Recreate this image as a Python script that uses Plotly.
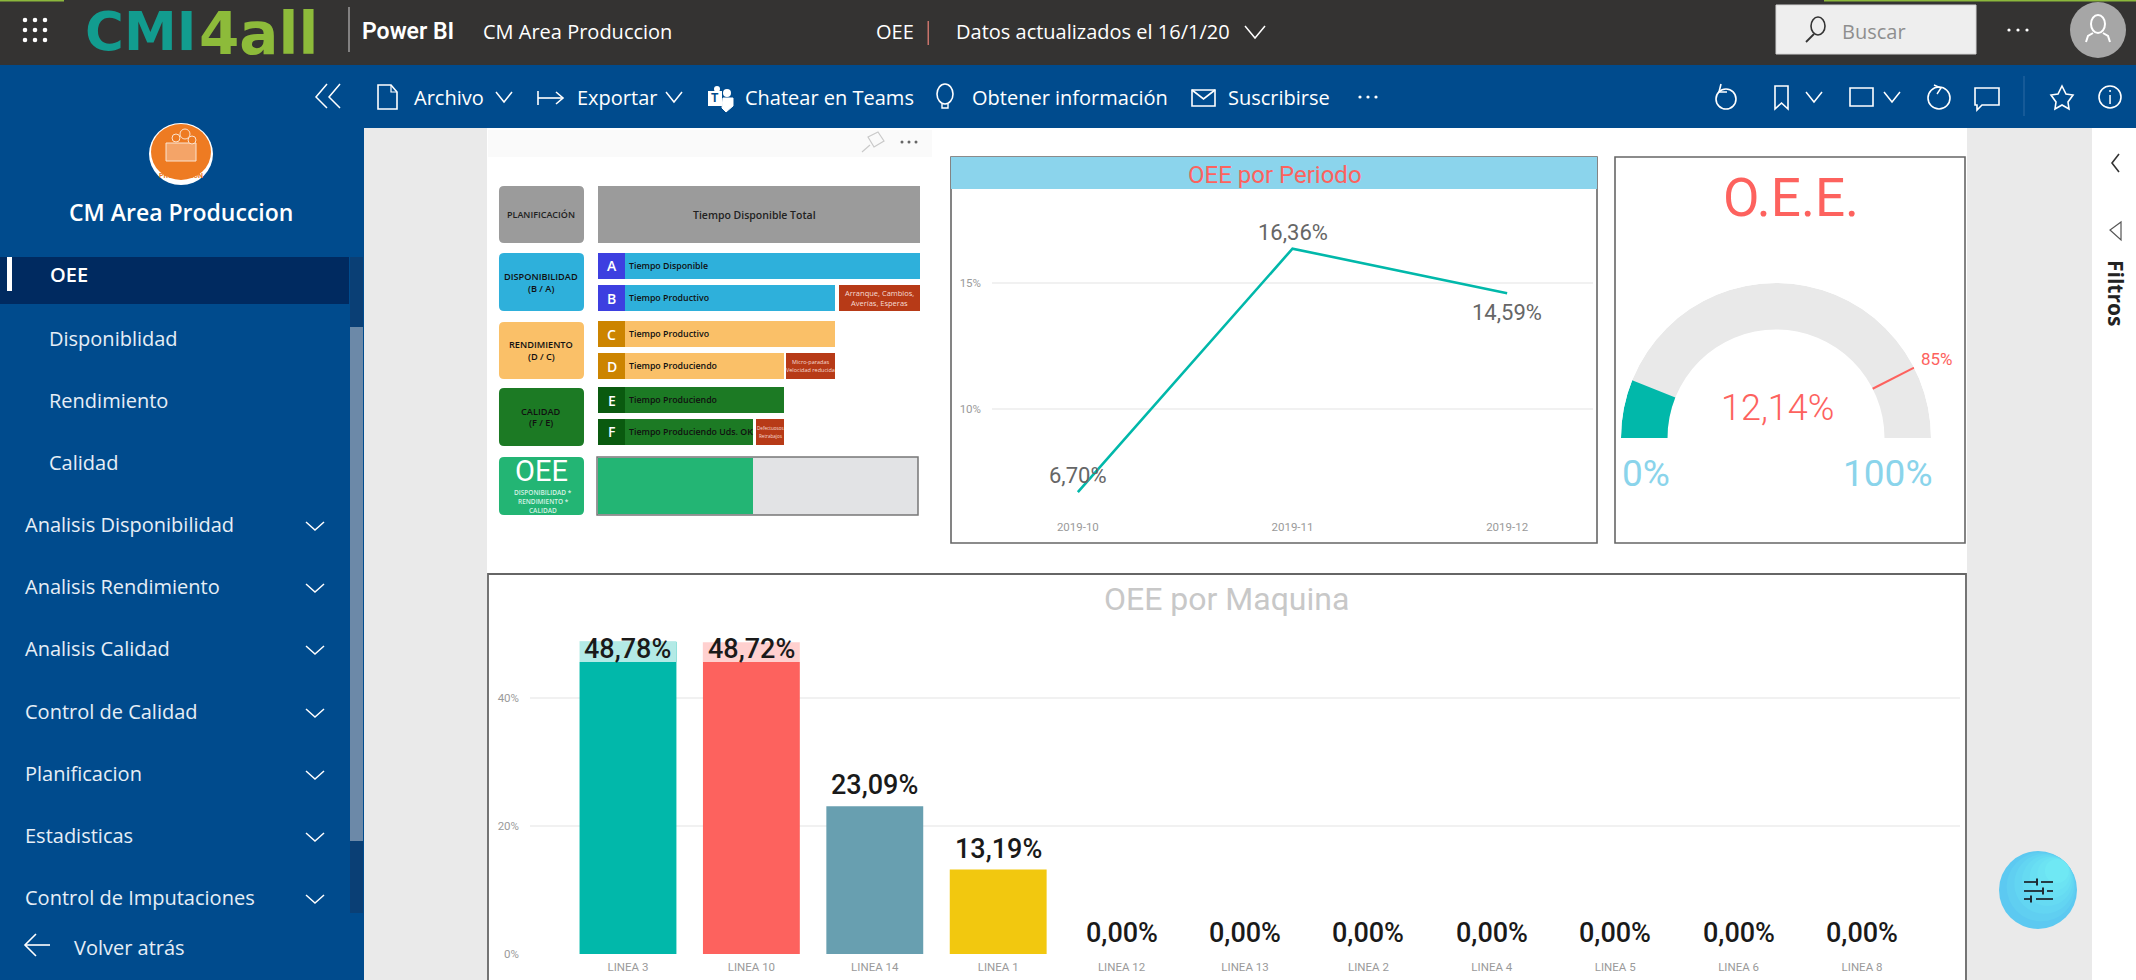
import plotly.graph_objects as go

W, H = 2136, 980

# ---------- chart data ----------
periods = ["2019-10", "2019-11", "2019-12"]
oee_period = [6.70, 16.36, 14.59]
machines = ["LINEA 3", "LINEA 10", "LINEA 14", "LINEA 1", "LINEA 12", "LINEA 13",
            "LINEA 2", "LINEA 4", "LINEA 5", "LINEA 6", "LINEA 8"]
oee_machine = [48.78, 48.72, 23.09, 13.19, 0, 0, 0, 0, 0, 0, 0]
machine_colors = ["#01B8AA", "#FD625E", "#689FB0", "#F2C80F"] + ["#01B8AA"] * 7
oee_value = 12.14
oee_target = 85
gauge_min, gauge_max = 0, 100

nav_sub = ["Disponiblidad", "Rendimiento", "Calidad"]
nav_main = ["Analisis Disponibilidad", "Analisis Rendimiento", "Analisis Calidad",
            "Control de Calidad", "Planificacion", "Estadisticas", "Control de Imputaciones"]


def es(v):
    return f"{v:.2f}".replace(".", ",") + "%"


# ---------- pixel helpers for the page furniture ----------
px = lambda x: x / W
py = lambda y: 1 - y / H
shapes, notes = [], []
RB = "Roboto"
SANS = "Open Sans"


def rect(x0, y0, x1, y1, fill, line=None, lw=0):
    shapes.append(dict(type="rect", xref="paper", yref="paper", x0=px(x0), x1=px(x1), y0=py(y0), y1=py(y1),
                       fillcolor=fill, line=dict(color=line or "rgba(0,0,0,0)", width=lw), layer="below"))


def poly(pts, color=None, lw=2, fill=None, closed=False):
    d = "M " + " L ".join(f"{px(x):.5f},{py(y):.5f}" for x, y in pts) + (" Z" if closed else "")
    shapes.append(dict(type="path", xref="paper", yref="paper", path=d, fillcolor=fill or "rgba(0,0,0,0)",
                       line=dict(color=color or "rgba(0,0,0,0)", width=lw), layer="below"))


def rrect(x0, y0, x1, y1, fill, r=5):
    a = lambda x, y: f"{px(x):.5f},{py(y):.5f}"
    d = (f"M {a(x0+r,y0)} L {a(x1-r,y0)} Q {a(x1,y0)} {a(x1,y0+r)} L {a(x1,y1-r)} Q {a(x1,y1)} {a(x1-r,y1)} "
         f"L {a(x0+r,y1)} Q {a(x0,y1)} {a(x0,y1-r)} L {a(x0,y0+r)} Q {a(x0,y0)} {a(x0+r,y0)} Z")
    shapes.append(dict(type="path", xref="paper", yref="paper", path=d, fillcolor=fill,
                       line=dict(color="rgba(0,0,0,0)", width=0), layer="below"))


def circ(cx, cy, rx, ry=None, fill="rgba(0,0,0,0)", line=None, lw=0):
    ry = ry or rx
    shapes.append(dict(type="circle", xref="paper", yref="paper", x0=px(cx-rx), x1=px(cx+rx), y0=py(cy+ry), y1=py(cy-ry),
                       fillcolor=fill, line=dict(color=line or "rgba(0,0,0,0)", width=lw), layer="below"))


def T(text, x, y, size, color, anchor="left", family=RB, weight=None, angle=0):
    f = dict(family=family, size=size, color=color)
    if weight:
        f["weight"] = weight
    notes.append(dict(text=text, x=px(x), y=py(y), xref="paper", yref="paper", xanchor=anchor, yanchor="middle",
                      showarrow=False, font=f, textangle=angle, borderpad=0))


def chev(cx, cy, w, h, color="#FFFFFF", lw=1.5):
    poly([(cx-w, cy-h), (cx, cy+h), (cx+w, cy-h)], color, lw)


WHITE = "#FFFFFF"
BLUE = "#004B8D"

# ---------- page areas ----------
rect(0, 0, W, 65, "#343332")
rect(0, 0, 64, 1.5, "#8CB83C")
rect(1824, 0, W, 1.5, "#8CB83C")
rect(0, 65, W, 128, BLUE)
rect(0, 128, 364, H, BLUE)
rect(364, 128, 2092, H, "#EAEAEA")
rect(487, 128, 1967, H, WHITE)
rect(2092, 128, W, H, WHITE)

# top bar
for cx in (25, 35, 45):
    for cy in (20, 30, 40):
        circ(cx, cy, 2.3, fill=WHITE)
T("CMI", 84, 31, 53, "#129C8F", family="DejaVu Sans", weight=700)
T("4all", 198, 34, 58, "#8DBB3A", family="DejaVu Sans", weight=700)
rect(348.5, 7, 349.5, 52, "#CFCFCF")
T("Power BI", 361, 32, 23, WHITE, weight=600)
T("CM Area Produccion", 482, 32, 20, WHITE, family=SANS)
T("OEE", 875, 32, 20, WHITE, family=SANS)
rect(927.5, 21, 929, 45, "#C8736A")
T("Datos actualizados el 16/1/20", 955, 32, 20, WHITE, family=SANS)
chev(1255, 32, 10, 6)
rect(1776, 5, 1976, 54, "#EEEEEE", "#D5D5D5", 1)
circ(1818, 26, 7, 9, line="#333333", lw=1.6)
poly([(1814, 34), (1806, 42)], "#333333", 1.8)
T("Buscar", 1841, 32, 20, "#8E8E8E", family=SANS)
for dx in (-9, 0, 9):
    circ(2018 + dx, 30, 1.6, fill=WHITE)
circ(2098, 30, 28, fill="#A6A6A6")
circ(2098, 24, 7, 9, line=WHITE, lw=2)
poly([(2086, 42), (2088, 36), (2093, 33)], WHITE, 2)
poly([(2110, 42), (2108, 36), (2103, 33)], WHITE, 2)

# toolbar
TY = 98
poly([(327, 84), (316, 97), (327, 108)], WHITE, 1.5)
poly([(340, 84), (329, 97), (340, 108)], WHITE, 1.5)
poly([(378, 85), (391, 85), (397, 92), (397, 109), (378, 109)], WHITE, 1.6, closed=True)
poly([(391, 85), (391, 92), (397, 92)], WHITE, 1.2)
T("Archivo", 413, TY, 20, WHITE, family=SANS)
chev(504, TY-1, 8, 5)
poly([(538, 91), (538, 105)], WHITE, 1.6)
poly([(538, 98), (563, 98)], WHITE, 1.6)
poly([(556, 92), (563, 98), (556, 104)], WHITE, 1.6)
T("Exportar", 576, TY, 20, WHITE, family=SANS)
chev(674, TY-1, 8, 5)
rect(708, 91, 722, 106, WHITE)
circ(727, 93, 4, fill=WHITE)
circ(717, 89, 3, fill=WHITE)
poly([(723, 98), (733, 98), (733, 106), (726, 112), (722, 108)], WHITE, 1, fill=WHITE, closed=True)
T("T", 715, 98, 12, BLUE, "center", weight=700)
T("Chatear en Teams", 744, TY, 20, WHITE, family=SANS)
circ(945, 94, 8, 10, line=WHITE, lw=1.6)
poly([(942, 104), (942, 108), (948, 108), (948, 104)], WHITE, 1.4)
T("Obtener información", 971, TY, 20, WHITE, family=SANS)
rect(1192, 90, 1215, 106, "rgba(0,0,0,0)", WHITE, 1.6)
poly([(1192, 90), (1203.5, 99), (1215, 90)], WHITE, 1.6)
T("Suscribirse", 1227, TY, 20, WHITE, family=SANS)
for dx in (-8, 0, 8):
    circ(1368 + dx, 97, 1.6, fill=WHITE)
# right icons
circ(1726, 99, 10, line=WHITE, lw=1.6)
poly([(1721, 84), (1719, 92), (1727, 92)], WHITE, 1.6)
poly([(1775, 86), (1788, 86), (1788, 109), (1781.5, 103), (1775, 109)], WHITE, 1.6, closed=True)
chev(1814, 97, 8, 5)
rect(1850, 88, 1873, 106, "rgba(0,0,0,0)", WHITE, 1.6)
chev(1892, 97, 8, 5)
circ(1939, 98, 11, line=WHITE, lw=1.6)
poly([(1934, 85), (1941, 88), (1937, 94)], WHITE, 1.4)
poly([(1975, 88), (1999, 88), (1999, 105), (1982, 105), (1977, 110), (1977, 105), (1975, 105)], WHITE, 1.6, closed=True)
rect(2023.5, 76, 2024.5, 116, "#2C6AA3")
poly([(2062, 86), (2066, 94), (2073, 95), (2068, 102), (2069, 109), (2062, 105), (2055, 109), (2056, 102),
      (2051, 95), (2058, 94)], WHITE, 1.6, closed=True)
circ(2110, 97, 11, line=WHITE, lw=1.6)
rect(2109.3, 95, 2110.8, 104, WHITE)
rect(2109.3, 90, 2110.8, 92, WHITE)

# sidebar
circ(181, 154, 32, 31, fill=WHITE)
circ(181, 152, 30, 28, fill="#EE7B22")
rrect(165, 142, 197, 162, "#EE7B22", 2)
rect(166, 143, 196, 161, "#F4A468", "#FBE3CF", 1)
for gx, gy, gr in ((176, 138, 4), (185, 134, 5), (192, 140, 4)):
    circ(gx, gy, gr, fill="#EE7B22", line="#FBE3CF", lw=1)
T("PRODUCCION", 181, 176, 7, "#EE7B22", "center", weight=700)
T("CM Area Produccion", 181, 212, 23, WHITE, "center", family=SANS, weight=600)
rect(0, 257, 349, 304, "#002A60")
rect(7, 257, 12, 291, WHITE)
rect(350, 257, 363, 913, "#0A3F75")
rect(350, 327, 363, 841, "#6C89A8")
T("OEE", 49, 275, 20, WHITE, family=SANS, weight=600)
for name, y in zip(nav_sub, (338, 400, 462)):
    T(name, 48, y, 20, "#E6EEF6", family=SANS)
for name, y in zip(nav_main, (524, 586, 648, 711, 773, 835, 897)):
    T(name, 24, y, 20, "#E6EEF6", family=SANS)
    chev(315, y + 2, 9, 4)
poly([(25, 945), (50, 945)], WHITE, 1.6)
poly([(36, 934), (25, 945), (36, 956)], WHITE, 1.6)
T("Volver atrás", 73, 947, 20, "#E6EEF6", family=SANS)

# right filter pane
poly([(2119, 154), (2112, 163), (2119, 172)], "#333333", 1.6)
poly([(2121, 222), (2110, 230), (2121, 240)], "#555555", 1.2, closed=True)
T("Filtros", 2116, 293, 21, "#222222", "center", family="Open Sans", weight=700, angle=90)

# floating action button (soft cyan gradient built from nested discs)
fab_stops = ["#5CC9F1", "#60CFF1", "#63D5F2", "#66DAF2", "#69DFF3", "#6CE3F3", "#6FE8F4"]
for k, c in enumerate(fab_stops):
    d = k * 4.5
    circ(2038 + d * 0.7, 890 - d * 0.7, 39 - d, fill=c)
DK = "#1F2B33"
for a, b, y in ((2024, 2037, 882), (2041, 2053, 882), (2024, 2043, 891), (2047, 2053, 891),
                (2024, 2031, 899), (2036, 2053, 899)):
    poly([(a, y), (b, y)], DK, 1.8)
for x, y in ((2037, 882), (2043, 891), (2031, 899)):
    rect(x - 1, y - 3.5, x + 1, y + 3.5, DK)

# ---------- OEE explanatory panel ----------
rect(488, 130, 932, 157, "#FAFAFA")
poly([(878, 132), (884, 141), (874, 147), (868, 137)], "#C9C9C9", 1.2, closed=True)
poly([(870, 145), (862, 152)], "#C9C9C9", 1.2)
for dx in (-7, 0, 7):
    circ(909 + dx, 142, 1.5, fill="#666666")

rrect(499, 186, 584, 243, "#9B9B9B")
T("PLANIFICACIÓN", 541, 215, 9, "#222222", "center", family=SANS, weight=600)
rect(598, 186, 920, 243, "#9B9B9B")
T("Tiempo Disponible Total", 754, 215, 10.5, "#222222", "center", family=SANS, weight=600)


def box(y0, y1, fill, lines, col="#111111"):
    rrect(499, y0, 584, y1, fill)
    m = (y0 + y1) / 2
    for i, l in enumerate(lines):
        T(l, 541, m + (i - (len(lines) - 1) / 2) * 12, 9.2, col, "center", family=SANS, weight=600)


def row(y0, y1, end, fill, lab, letter_fill, letter, text):
    rect(598, y0, end, y1, fill)
    rect(598, y0, 625, y1, letter_fill)
    T(letter, 611.5, (y0 + y1) / 2, 14, WHITE, "center", family=SANS, weight=600)
    T(text, 628, (y0 + y1) / 2, 8.8, "#111111", family=SANS, weight=600)


def loss(x0, x1, y0, y1, lines, size):
    rect(x0, y0, x1, y1, "#B73A17")
    m = (y0 + y1) / 2
    for i, l in enumerate(lines):
        T(l, (x0 + x1) / 2, m + (i - (len(lines) - 1) / 2) * (size + 2.5), size, "#F6DDD5", "center", family=SANS)


box(253, 311, "#2EB0DB", ["DISPONIBILIDAD", "(B / A)"])
row(253, 279, 920, "#2EB0DB", "", "#3D3FE0", "A", "Tiempo Disponible")
row(285, 311, 835, "#2EB0DB", "", "#3D3FE0", "B", "Tiempo Productivo")
loss(839, 920, 285, 311, ["Arranque, Cambios,", "Averías, Esperas"], 7.5)
box(322, 379, "#FAC068", ["RENDIMIENTO", "(D / C)"])
row(321, 347, 835, "#FAC068", "", "#CC8400", "C", "Tiempo Productivo")
row(353, 379, 784, "#FAC068", "", "#CC8400", "D", "Tiempo Produciendo")
loss(786, 835, 353, 379, ["Micro-paradas", "Velocidad reducida"], 5.5)
box(388, 446, "#1C7A24", ["CALIDAD", "(F / E)"])
row(387, 413, 784, "#1C7A24", "", "#0A5A0F", "E", "Tiempo Produciendo")
row(419, 445, 753, "#1C7A24", "", "#0A5A0F", "F", "Tiempo Produciendo Uds. OK")
loss(756, 784, 419, 445, ["Defectuosos", "Retrabajos"], 4.6)
rrect(499, 457, 584, 515, "#23B574")
T("OEE", 541, 471, 29, WHITE, "center", family=RB)
for i, l in enumerate(["DISPONIBILIDAD *", "RENDIMIENTO *", "CALIDAD"]):
    T(l, 543, 492 + i * 9, 6.5, "#D6F2E5", "center", family=SANS, weight=600)
rect(597, 457, 918, 515, "#E2E3E5", "#777777", 1.5)
rect(598, 458, 753, 514, "#23B574")

# ---------- visual frames ----------
rect(951, 157, 1597, 543, WHITE, "#666666", 1.6)
rect(951, 157, 1597, 189, "#8BD4EC")
T("OEE por Periodo", 1275, 175, 24, "#FD625E", "center")
rect(1615, 157, 1965, 543, WHITE, "#666666", 1.6)
T("O.E.E.", 1791, 198, 53, "#FD625E", "center")
rect(488, 574, 1966, 990, WHITE, "#666666", 1.8)
T("OEE por Maquina", 1226, 599, 32, "#C8C8C8", "center")

# ---------- gauge texts ----------
T(es(oee_value), 1777, 408, 36, "#FD625E", "center", weight=300)
T(f"{gauge_min}%", 1646, 473, 37, "#8AD4EB", "center")
T(f"{gauge_max}%", 1887, 473, 37, "#8AD4EB", "center")
T(f"{oee_target}%", 1937, 359, 17, "#FD625E", "center")

# ---------- line labels ----------
for p, v, shift in zip(periods, oee_period, (17, 16, -19)):
    notes.append(dict(x=p, y=v, xref="x", yref="y", text=es(v), showarrow=False, yanchor="middle", yshift=shift,
                      font=dict(family=RB, size=22, color="#666666"), borderpad=0))

# ---------- bar labels ----------
for m, v in zip(machines, oee_machine):
    a = dict(x=m, y=v, xref="x2", yref="y2", text=es(v), showarrow=False, borderpad=0, borderwidth=0,
             font=dict(family=RB, size=27, color="#1A1A1A", weight=500))
    if v > 40:
        # translucent label background over the top of the tallest bars
        notes.append(dict(x=m, y=v, xref="x2", yref="y2", text=" ", showarrow=False, yanchor="top", width=97, height=20,
                          bgcolor="rgba(255,255,255,0.7)", borderpad=0, borderwidth=0, font=dict(size=10)))
        a.update(yanchor="middle", yshift=-7)
    else:
        a.update(yanchor="bottom", yshift=5)
    notes.append(a)

# ---------- figure ----------
fig = go.Figure()
fig.add_trace(go.Scatter(
    x=periods, y=oee_period, mode="lines",
    line=dict(color="#01B8AA", width=2.6), xaxis="x", yaxis="y", showlegend=False, cliponaxis=False))
fig.add_trace(go.Bar(
    x=machines, y=oee_machine, marker=dict(color=machine_colors, line=dict(width=0)), width=0.785,
    xaxis="x2", yaxis="y2", showlegend=False))
fig.add_trace(go.Barpolar(
    r=[1 - 0.7], base=[0.7], theta=[90], width=[180], marker=dict(color="#E9E9E9", line=dict(width=0)),
    subplot="polar", showlegend=False))
v_deg = (oee_value - gauge_min) / (gauge_max - gauge_min) * 180
fig.add_trace(go.Barpolar(
    r=[1 - 0.7], base=[0.7], theta=[v_deg / 2], width=[v_deg], marker=dict(color="#01B8AA", line=dict(width=0)),
    subplot="polar", showlegend=False))
t_deg = (oee_target - gauge_min) / (gauge_max - gauge_min) * 180
fig.add_trace(go.Scatterpolar(
    r=[0.7, 1.0], theta=[t_deg, t_deg], mode="lines", line=dict(color="#FD625E", width=2),
    subplot="polar", showlegend=False))

tick = dict(family=RB, size=11.5, color="#9A9A9A")
fig.update_layout(
    width=W, height=H, margin=dict(l=0, r=0, t=0, b=0, autoexpand=False), paper_bgcolor=WHITE,
    plot_bgcolor="rgba(0,0,0,0)", shapes=shapes, annotations=notes,
    xaxis=dict(domain=[px(992), px(1593)], anchor="y", type="category", range=[-0.4, 2.4], showgrid=False,
               zeroline=False, showline=False, tickfont=tick, ticklabelstandoff=8, tickangle=0, automargin=False),
    yaxis=dict(domain=[py(510), py(200)], anchor="x", range=[5.99, 18.29], tickvals=[10, 15], ticktext=["10%", "15%"],
               gridcolor="#F1F1F1", gridwidth=1.5, zeroline=False, showline=False, tickfont=tick,
               ticklabelstandoff=10, automargin=False),
    xaxis2=dict(domain=[px(530), px(1960)], anchor="y2", type="category", range=[-0.794, 10.794], showgrid=False,
                zeroline=False, showline=False, tickfont=tick, ticklabelstandoff=4, tickangle=0, automargin=False),
    yaxis2=dict(domain=[py(954), py(620)], anchor="x2", range=[0, 52.19], tickvals=[0, 20, 40],
                ticktext=["0%", "20%", "40%"], gridcolor="#F1F1F1", gridwidth=1.5, zeroline=False, showline=False,
                tickfont=tick, ticklabelstandoff=10, automargin=False),
    polar=dict(domain=dict(x=[px(1621), px(1931)], y=[py(438), py(283)]), sector=[0, 180], bgcolor="rgba(0,0,0,0)",
               barmode="overlay",
               angularaxis=dict(visible=False, rotation=180, direction="clockwise", thetaunit="degrees"),
               radialaxis=dict(visible=False, range=[0, 1])),
)
fig.write_html("out.html", config={"displayModeBar": False},
               post_script="document.body.style.margin='0';document.documentElement.style.overflow='hidden';")
